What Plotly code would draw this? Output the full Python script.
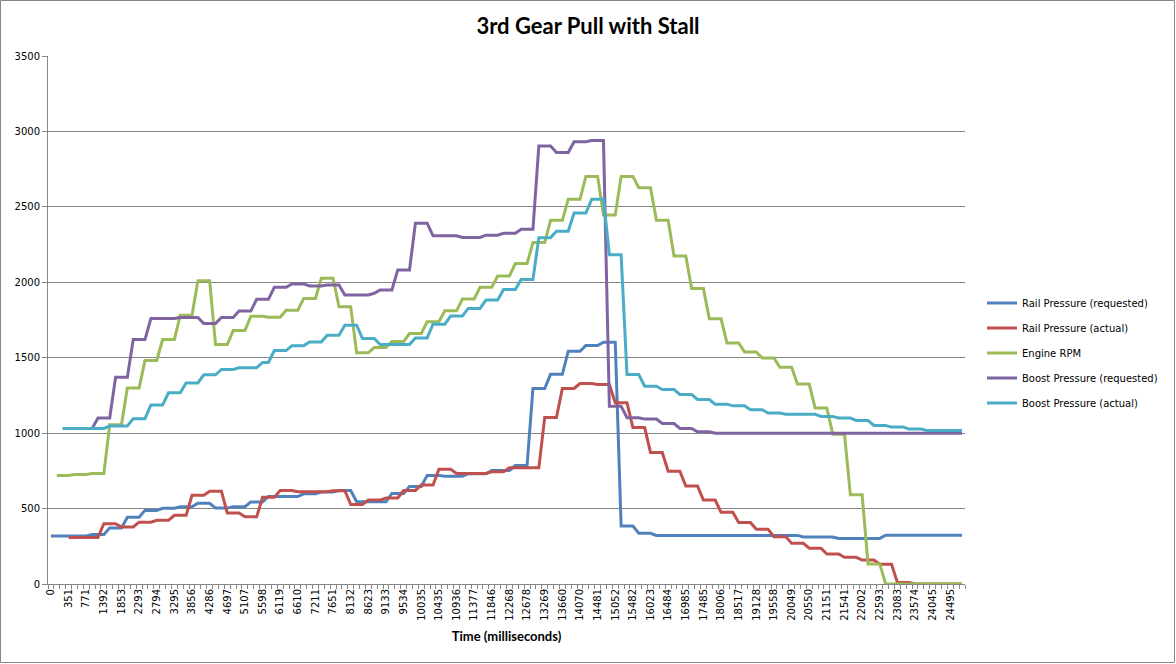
import plotly.graph_objects as go

TIME_LABELS = ["0", "351", "771", "1392", "1853", "2293", "2794", "3295", "3856", "4286",
               "4697", "5107", "5598", "6119", "6610", "7211", "7651", "8132", "8623", "9133",
               "9534", "10035", "10435", "10936", "11377", "11846", "12268", "12678", "13269", "13660",
               "14070", "14481", "15052", "15482", "16023", "16484", "16985", "17485", "18006", "18517",
               "19128", "19558", "20049", "20550", "21151", "21541", "22002", "22593", "23083", "23574",
               "24045", "24495"]
LABEL_EVERY = 3

RAIL_REQ = [318, 318, 318, 318, 318, 318, 318, 328, 328, 328,
            372, 372, 372, 443, 443, 443, 488, 488, 488, 502,
            502, 502, 512, 512, 512, 535, 535, 535, 503, 503,
            503, 512, 512, 512, 544, 544, 544, 580, 580, 580,
            580, 580, 580, 598, 598, 598, 610, 610, 610, 620,
            620, 620, 545, 545, 545, 545, 545, 545, 600, 600,
            600, 647, 647, 647, 720, 720, 720, 714, 714, 714,
            714, 731, 731, 731, 731, 753, 753, 753, 753, 785,
            785, 785, 1296, 1296, 1296, 1390, 1390, 1390, 1543, 1543,
            1543, 1581, 1581, 1581, 1603, 1603, 1603, 384, 384, 384,
            336, 336, 336, 322, 322, 322, 322, 322, 322, 322,
            322, 322, 322, 322, 322, 322, 322, 322, 322, 322,
            322, 322, 322, 322, 322, 322, 322, 322, 312, 312,
            312, 312, 312, 312, 302, 302, 302, 302, 302, 302,
            302, 302, 323, 323, 323, 323, 323, 323, 323, 323,
            323, 323, 323, 323, 323, 323]

RAIL_ACT = [None, None, None, 308, 308, 308, 308, 308, 308, 400,
            400, 400, 378, 378, 378, 410, 410, 410, 422, 422,
            422, 455, 455, 455, 588, 588, 588, 615, 615, 615,
            470, 470, 470, 445, 445, 445, 575, 575, 575, 620,
            620, 620, 612, 612, 612, 612, 612, 612, 618, 618,
            618, 527, 527, 527, 556, 556, 556, 570, 570, 570,
            620, 620, 620, 656, 656, 656, 760, 760, 760, 733,
            733, 733, 733, 733, 733, 744, 744, 744, 770, 770,
            770, 770, 770, 770, 1104, 1104, 1104, 1296, 1296, 1296,
            1329, 1329, 1329, 1322, 1322, 1322, 1201, 1201, 1201, 1037,
            1037, 1037, 872, 872, 872, 748, 748, 748, 649, 649,
            649, 556, 556, 556, 475, 475, 475, 407, 407, 407,
            363, 363, 363, 314, 314, 314, 270, 270, 270, 237,
            237, 237, 199, 199, 199, 177, 177, 177, 159, 159,
            159, 131, 131, 131, 10, 10, 10, 0, 0, 0,
            0, 0, 0, 0, 0, 0]

ENGINE_RPM = [None, 720, 720, 720, 726, 726, 726, 732, 732, 732,
              1055, 1055, 1055, 1300, 1300, 1300, 1482, 1482, 1482, 1620,
              1620, 1620, 1782, 1782, 1782, 2011, 2011, 2011, 1587, 1587,
              1587, 1680, 1680, 1680, 1775, 1775, 1775, 1768, 1768, 1768,
              1815, 1815, 1815, 1893, 1893, 1893, 2027, 2027, 2027, 1838,
              1838, 1838, 1533, 1533, 1533, 1567, 1567, 1567, 1607, 1607,
              1607, 1660, 1660, 1660, 1738, 1738, 1738, 1811, 1811, 1811,
              1889, 1889, 1889, 1967, 1967, 1967, 2042, 2042, 2042, 2124,
              2124, 2124, 2263, 2263, 2263, 2411, 2411, 2411, 2550, 2550,
              2550, 2702, 2702, 2702, 2446, 2446, 2446, 2702, 2702, 2702,
              2627, 2627, 2627, 2411, 2411, 2411, 2174, 2174, 2174, 1958,
              1958, 1958, 1759, 1759, 1759, 1598, 1598, 1598, 1538, 1538,
              1538, 1498, 1498, 1498, 1436, 1436, 1436, 1325, 1325, 1325,
              1166, 1166, 1166, 993, 993, 993, 591, 591, 591, 133,
              133, 133, 0, 0, 0, 0, 0, 0, 0, 0,
              0, 0, 0, 0, 0, 0]

BOOST_REQ = [None, None, 1030, 1030, 1030, 1030, 1030, 1030, 1100, 1100,
             1100, 1370, 1370, 1370, 1620, 1620, 1620, 1760, 1760, 1760,
             1760, 1760, 1767, 1767, 1767, 1767, 1727, 1727, 1727, 1767,
             1767, 1767, 1809, 1809, 1809, 1887, 1887, 1887, 1967, 1967,
             1967, 1989, 1989, 1989, 1976, 1976, 1976, 1982, 1982, 1982,
             1916, 1916, 1916, 1916, 1916, 1927, 1949, 1949, 1949, 2082,
             2082, 2082, 2392, 2392, 2392, 2308, 2308, 2308, 2308, 2308,
             2297, 2297, 2297, 2297, 2312, 2312, 2312, 2325, 2325, 2325,
             2352, 2352, 2352, 2903, 2903, 2903, 2860, 2860, 2860, 2932,
             2932, 2932, 2940, 2940, 2940, 1179, 1179, 1179, 1102, 1102,
             1102, 1093, 1093, 1093, 1064, 1064, 1064, 1031, 1031, 1031,
             1009, 1009, 1009, 1000, 1000, 1000, 1000, 1000, 1000, 1000,
             1000, 1000, 1000, 1000, 1000, 1000, 1000, 1000, 1000, 1000,
             1000, 1000, 1000, 1000, 1000, 1000, 1000, 1000, 1000, 1000,
             1000, 1000, 1000, 1000, 1000, 1000, 1000, 1000, 1000, 1000,
             1000, 1000, 1000, 1000, 1000, 1000]

BOOST_ACT = [None, None, 1031, 1031, 1031, 1031, 1031, 1031, 1031, 1031,
             1047, 1047, 1047, 1047, 1096, 1096, 1096, 1187, 1187, 1187,
             1267, 1267, 1267, 1333, 1333, 1333, 1387, 1387, 1387, 1422,
             1422, 1422, 1433, 1433, 1433, 1433, 1469, 1469, 1547, 1547,
             1547, 1580, 1580, 1580, 1604, 1604, 1604, 1649, 1649, 1649,
             1716, 1716, 1716, 1627, 1627, 1627, 1587, 1587, 1587, 1587,
             1587, 1587, 1631, 1631, 1631, 1722, 1722, 1722, 1776, 1776,
             1776, 1827, 1827, 1827, 1882, 1882, 1882, 1952, 1952, 1952,
             2018, 2018, 2018, 2296, 2296, 2296, 2338, 2338, 2338, 2459,
             2459, 2459, 2550, 2550, 2550, 2183, 2183, 2183, 1389, 1389,
             1389, 1311, 1311, 1311, 1289, 1289, 1289, 1256, 1256, 1256,
             1223, 1223, 1223, 1192, 1192, 1192, 1181, 1181, 1181, 1155,
             1155, 1155, 1133, 1133, 1133, 1126, 1126, 1126, 1126, 1126,
             1126, 1111, 1111, 1111, 1100, 1100, 1100, 1084, 1084, 1084,
             1051, 1051, 1051, 1040, 1040, 1040, 1027, 1027, 1027, 1018,
             1018, 1018, 1018, 1018, 1018, 1018]

SERIES = [
    ("Rail Pressure (requested)", RAIL_REQ, "#4F81BD"),
    ("Rail Pressure (actual)", RAIL_ACT, "#C0504D"),
    ("Engine RPM", ENGINE_RPM, "#9BBB59"),
    ("Boost Pressure (requested)", BOOST_REQ, "#8064A2"),
    ("Boost Pressure (actual)", BOOST_ACT, "#4BACC6"),
]

n = len(RAIL_REQ)
x = list(range(n))

fig = go.Figure()
for i, (name, vals, color) in enumerate(SERIES):
    fig.add_trace(go.Scatter(x=x, y=vals, mode="lines", name=name,
                             legendgroup=f"g{i}",
                             line=dict(color=color, width=3)))

W, H = 1176, 664
ML, MR, MT, MB = 48, 211, 56, 80
pw, ph = W - ML - MR, H - MT - MB
grid = "#868686"
tick_font = dict(family="DejaVu Sans", size=10, color="#000000")

fig.update_layout(
    width=W, height=H,
    margin=dict(l=ML, r=MR, t=MT, b=MB),
    paper_bgcolor="white", plot_bgcolor="white",
    title=dict(text="<b>3rd Gear Pull with Stall</b>", x=588 / W, xanchor="center",
               y=1 - 26 / H, yanchor="middle",
               font=dict(family="Lato", size=22, color="#000000")),
    legend=dict(x=(982 - ML) / pw, xanchor="left", y=(584 - 353) / ph,
                yanchor="middle", font=tick_font, tracegroupgap=6,
                bgcolor="rgba(0,0,0,0)", itemwidth=30),
    showlegend=True,
)

fig.update_xaxes(
    range=[-0.5, n - 0.5],
    tickmode="array",
    tickvals=[LABEL_EVERY * k for k in range(len(TIME_LABELS))],
    ticktext=TIME_LABELS,
    tickangle=-90,
    ticks="",
    tickfont=tick_font,
    showgrid=False, zeroline=False,
    showline=True, linecolor=grid, linewidth=1,
    minor=dict(tickmode="linear", tick0=-0.5, dtick=1, ticks="outside",
               ticklen=4, tickcolor=grid, tickwidth=1, showgrid=False),
    title=dict(text="<b>Time (milliseconds)</b>", standoff=12,
               font=dict(family="Lato", size=13, color="#000000")),
)

fig.update_yaxes(
    range=[0, 3500], dtick=500, tick0=0,
    ticks="outside", ticklen=5, tickcolor=grid,
    tickfont=tick_font,
    showgrid=True, gridcolor=grid, gridwidth=1,
    zeroline=False,
    showline=True, linecolor=grid, linewidth=1,
)

# outer chart border
fig.add_shape(type="rect", xref="paper", yref="paper",
              x0=(0.5 - ML) / pw, x1=(W - 1.5 - ML) / pw,
              y0=-(MB - 1.5) / ph, y1=(ph + MT - 0.5) / ph,
              line=dict(color="#868686", width=1), fillcolor="rgba(0,0,0,0)", layer="below")

fig.write_html("out.html")
